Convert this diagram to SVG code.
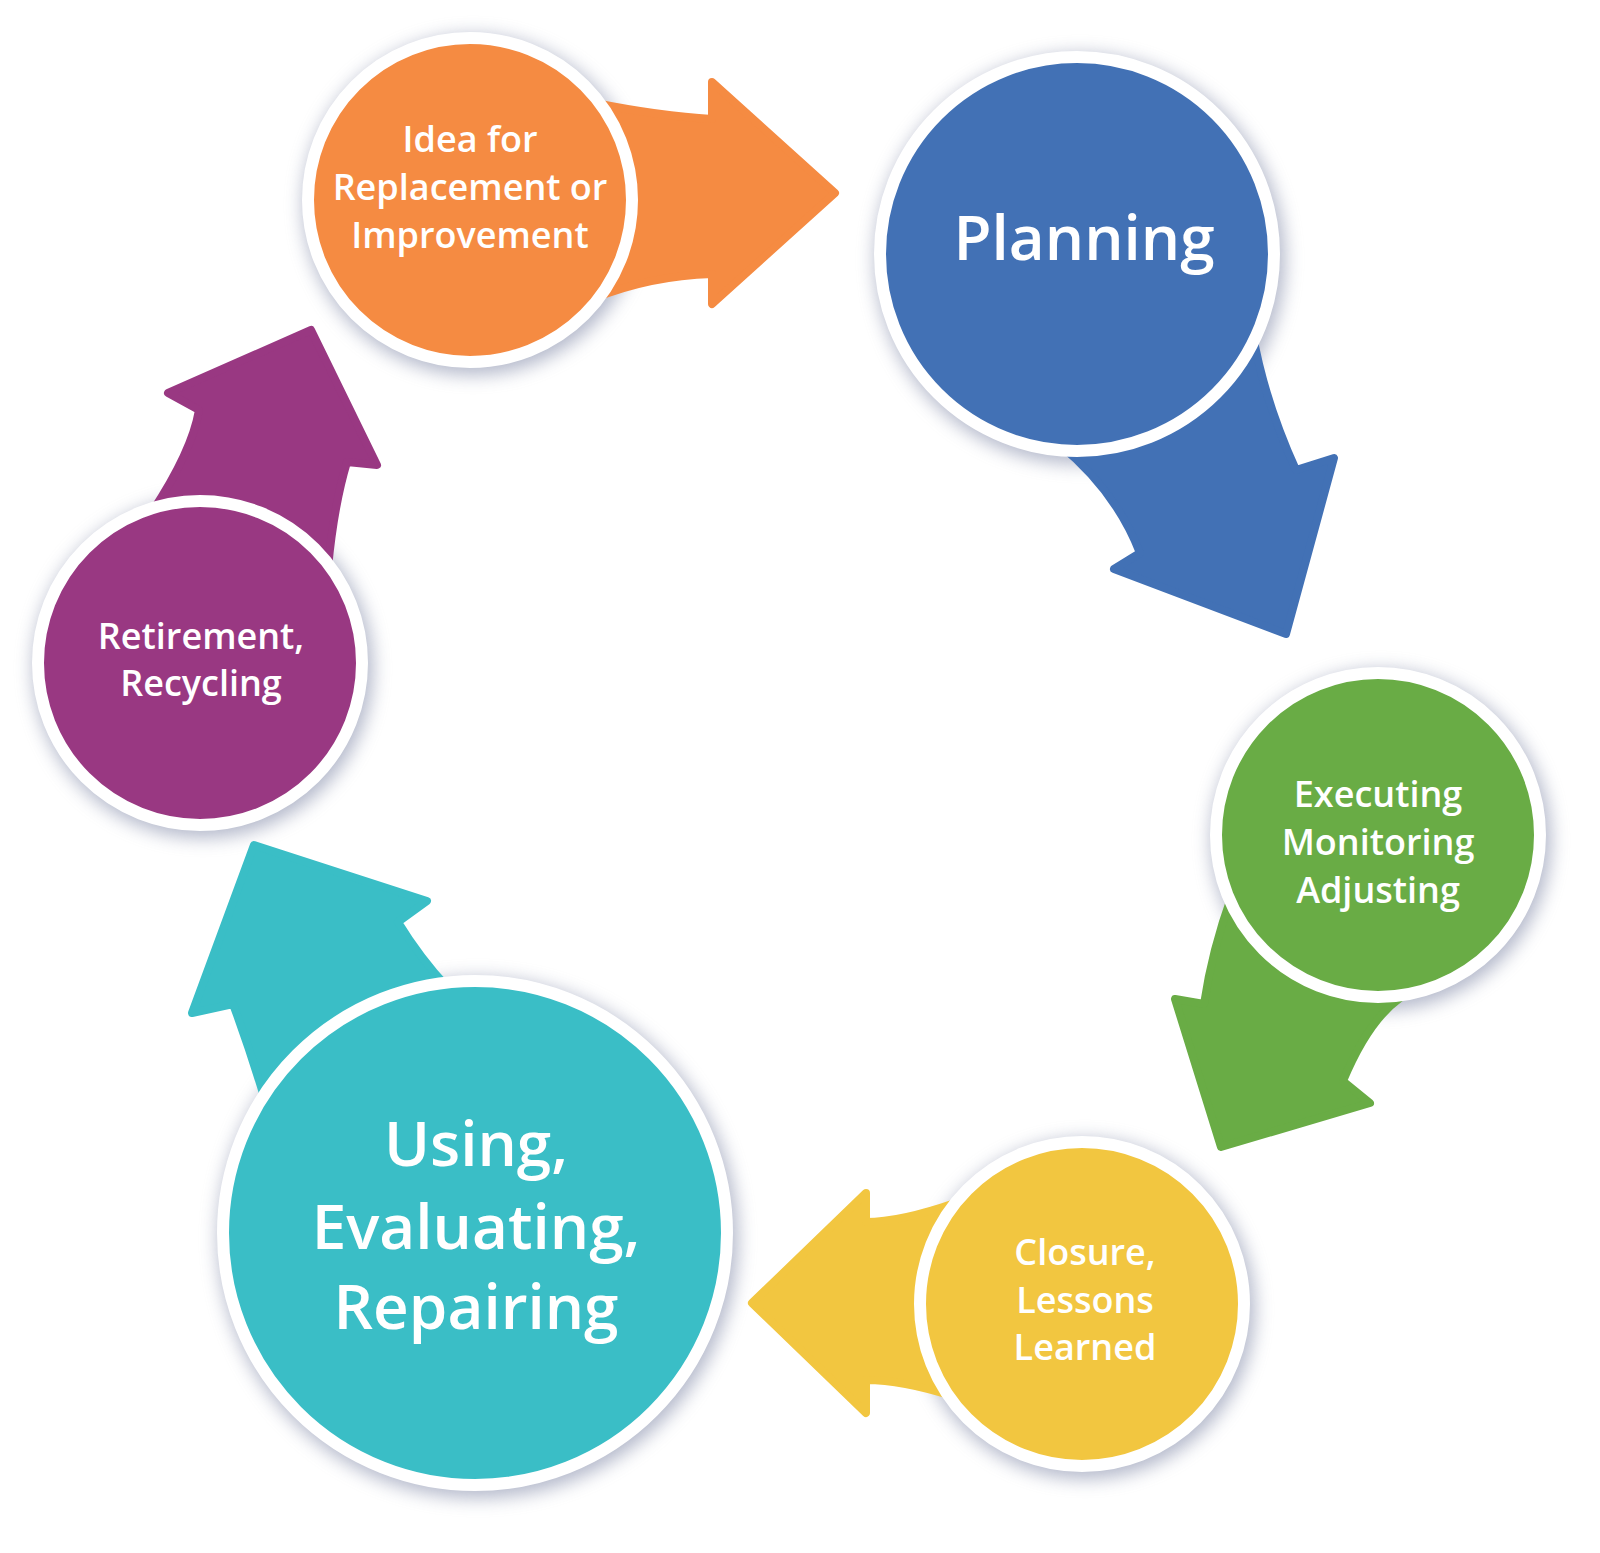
<svg xmlns="http://www.w3.org/2000/svg" width="1600" height="1553" viewBox="0 0 1600 1553">
  <defs>
    <filter id="soft" x="-30%" y="-30%" width="160%" height="160%">
      <feGaussianBlur stdDeviation="9"/>
    </filter>
    <style>
      .shadow { fill: #858daa; opacity: 0.62; filter: url(#soft); }
      .arrow { stroke-width: 8; stroke-linejoin: round; }
      .ring { stroke: #ffffff; stroke-width: 12; }
      .t { font-family: "Open Sans", "Noto Sans", "DejaVu Sans", sans-serif; font-weight: 600; fill: #ffffff; text-anchor: middle; }
      .s { font-size: 36px; }
      .l { font-size: 62px; }
      .orange { fill: #F58B42; stroke: #F58B42; }
      .blue { fill: #4271B5; stroke: #4271B5; }
      .green { fill: #69AC45; stroke: #69AC45; }
      .yellow { fill: #F2C640; stroke: #F2C640; }
      .teal { fill: #3ABEC6; stroke: #3ABEC6; }
      .purple { fill: #993882; stroke: #993882; }
    </style>
  </defs>
  <rect width="1600" height="1553" fill="#ffffff"/>

  <g id="shadows">
    <circle class="shadow" cx="473" cy="205" r="170"/>
    <circle class="shadow" cx="1080" cy="259" r="205"/>
    <circle class="shadow" cx="1381" cy="840" r="170"/>
    <circle class="shadow" cx="1085" cy="1309" r="170"/>
    <circle class="shadow" cx="478" cy="1238" r="260"/>
    <circle class="shadow" cx="203" cy="668" r="170"/>
  </g>

  <g id="connectors">
    <path id="arrow-idea-planning" class="arrow orange" d="M 595 103 Q 660 116 712 119 L 712 82 L 835 193 L 712 304 L 712 274 Q 650 276 595 298 Z"/>
    <path id="arrow-planning-executing" class="arrow blue" d="M 1252 330 Q 1264 400 1296 470 L 1334 458 L 1286 634 L 1114 569 L 1140 553 Q 1116 491 1060 445 Z"/>
    <path id="arrow-executing-closure" class="arrow green" d="M 1232 895 Q 1212 950 1204 1004 L 1175 999 L 1221 1147 L 1370 1103 L 1343 1081 Q 1368 1021 1400 998 Z"/>
    <path id="arrow-closure-using" class="arrow yellow" d="M 955 1203 Q 900 1222 866 1222 L 866 1193 L 752 1303 L 866 1413 L 866 1380 Q 902 1380 952 1396 Z"/>
    <path id="arrow-using-retirement" class="arrow teal" d="M 254 845 L 427 901 L 398 922 Q 420 958 448 988 L 265 1100 Q 250 1050 233 1004 L 192 1013 Z"/>
    <path id="arrow-retirement-idea" class="arrow purple" d="M 311 330 L 377 465 L 347 462 Q 334 505 328 568 L 150 515 Q 192 452 199 410 L 168 393 Z"/>
  </g>

  <g id="node-idea">
    <circle class="ring orange" cx="470" cy="200" r="162" style="stroke:#ffffff"/>
    <text class="t s" x="470" y="152">Idea for</text>
    <text class="t s" x="470" y="200">Replacement or</text>
    <text class="t s" x="470" y="248">Improvement</text>
  </g>

  <g id="node-planning">
    <circle class="ring blue" cx="1077" cy="254" r="197" style="stroke:#ffffff"/>
    <text class="t l" x="1084" y="260">Planning</text>
  </g>

  <g id="node-executing">
    <circle class="ring green" cx="1378" cy="835" r="162" style="stroke:#ffffff"/>
    <text class="t s" x="1378" y="807">Executing</text>
    <text class="t s" x="1378" y="855">Monitoring</text>
    <text class="t s" x="1378" y="903">Adjusting</text>
  </g>

  <g id="node-closure">
    <circle class="ring yellow" cx="1082" cy="1304" r="162" style="stroke:#ffffff"/>
    <text class="t s" x="1085" y="1265">Closure,</text>
    <text class="t s" x="1085" y="1313">Lessons</text>
    <text class="t s" x="1085" y="1360">Learned</text>
  </g>

  <g id="node-using">
    <circle class="ring teal" cx="475" cy="1233" r="252" style="stroke:#ffffff"/>
    <text class="t l" x="476" y="1166">Using,</text>
    <text class="t l" x="476" y="1249">Evaluating,</text>
    <text class="t l" x="476" y="1329">Repairing</text>
  </g>

  <g id="node-retirement">
    <circle class="ring purple" cx="200" cy="663" r="162" style="stroke:#ffffff"/>
    <text class="t s" x="201" y="649">Retirement,</text>
    <text class="t s" x="201" y="696">Recycling</text>
  </g>
</svg>
